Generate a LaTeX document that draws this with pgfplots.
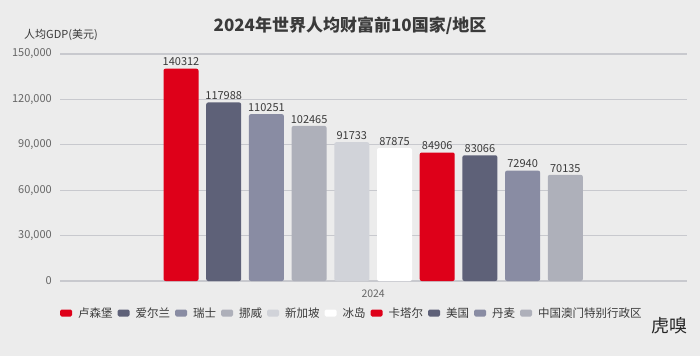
\documentclass[border=0pt]{standalone}
\usepackage{pgfplots}
\pgfplotsset{compat=1.18}
\usepackage{fontspec}
\setmainfont{Noto Sans CJK SC}
\definecolor{bgc}{HTML}{ECECEC}
\definecolor{cred}{HTML}{DE0019}
\definecolor{cdark}{HTML}{5E6178}
\definecolor{cmid}{HTML}{898CA3}
\definecolor{clight}{HTML}{AEB0BA}
\definecolor{cpale}{HTML}{D1D3D9}
\definecolor{cwhite}{HTML}{FFFFFF}
\definecolor{gridc}{HTML}{C8C9CE}
\definecolor{tickc}{HTML}{666666}
\definecolor{textc}{HTML}{3A3A3A}
\begin{document}
\begin{tikzpicture}[x=1pt,y=1pt]
\fill[bgc] (0,0) rectangle (700,356);
\begin{axis}[
  at={(60pt,75pt)}, anchor=south west,
  scale only axis, width=627pt, height=227pt,
  xmin=-2.834, xmax=11.85, ymin=0, ymax=150000,
  enlargelimits=false, clip=false,
  axis line style={draw=none},
  ymajorgrids, grid style={gridc, line width=1.1pt},
  major tick length=0pt,
  ytick={0,30000,60000,90000,120000,150000},
  scaled y ticks=false,
  /pgf/number format/assume math mode=true,
  yticklabel style={/pgf/number format/.cd, fixed, 1000 sep={,}, /tikz/.cd, font=\fontsize{11}{13}\selectfont, text=tickc, anchor=east, inner sep=0pt, xshift=-8pt},
  xtick={4.5}, xticklabels={2024},
  xticklabel style={font=\fontsize{10.5}{12}\selectfont, text=tickc, yshift=-5pt},
  ybar, bar width=35pt, bar shift=0pt,
  every axis plot/.append style={draw=none, rounded corners=2pt},
  point meta=explicit symbolic,
  nodes near coords,
  nodes near coords style={font=\fontsize{11}{13}\selectfont, text=textc, inner sep=2.5pt, rounded corners=0pt},
  legend columns=10,
  legend style={at={(0,-0.141)}, anchor=west, draw=none, fill=none, inner sep=0pt,
    font=\fontsize{11.5}{13}\selectfont, text=textc,
    /tikz/every even column/.append style={column sep=3pt},
    /tikz/every odd column/.append style={column sep=4pt}},
  legend image code/.code={\fill[#1, rounded corners=1.5pt] (0pt,-3.5pt) rectangle (12pt,3.5pt);},
]
\addplot[fill=cred] coordinates {(0,140312) [140312]};
\addlegendentry{卢森堡}
\addplot[fill=cdark] coordinates {(1,117988) [117988]};
\addlegendentry{爱尔兰}
\addplot[fill=cmid] coordinates {(2,110251) [110251]};
\addlegendentry{瑞士}
\addplot[fill=clight] coordinates {(3,102465) [102465]};
\addlegendentry{挪威}
\addplot[fill=cpale] coordinates {(4,91733) [91733]};
\addlegendentry{新加坡}
\addplot[fill=cwhite] coordinates {(5,87875) [87875]};
\addlegendentry{冰岛}
\addplot[fill=cred] coordinates {(6,84906) [84906]};
\addlegendentry{卡塔尔}
\addplot[fill=cdark] coordinates {(7,83066) [83066]};
\addlegendentry{美国}
\addplot[fill=cmid] coordinates {(8,72940) [72940]};
\addlegendentry{丹麦}
\addplot[fill=clight] coordinates {(9,70135) [70135]};
\addlegendentry{中国澳门特别行政区}
\end{axis}
\node[font=\fontsize{17}{20}\selectfont\bfseries, text=textc] at (350,330) {2024年世界人均财富前10国家/地区};
\node[font=\fontsize{11}{13}\selectfont, text=textc, anchor=west, inner sep=0pt] at (24,321) {人均GDP(美元)};
\node[font=\fontsize{18}{20}\selectfont, text=black!85, anchor=center, inner sep=0pt] at (669,30) {虎嗅};
\end{tikzpicture}
\end{document}
